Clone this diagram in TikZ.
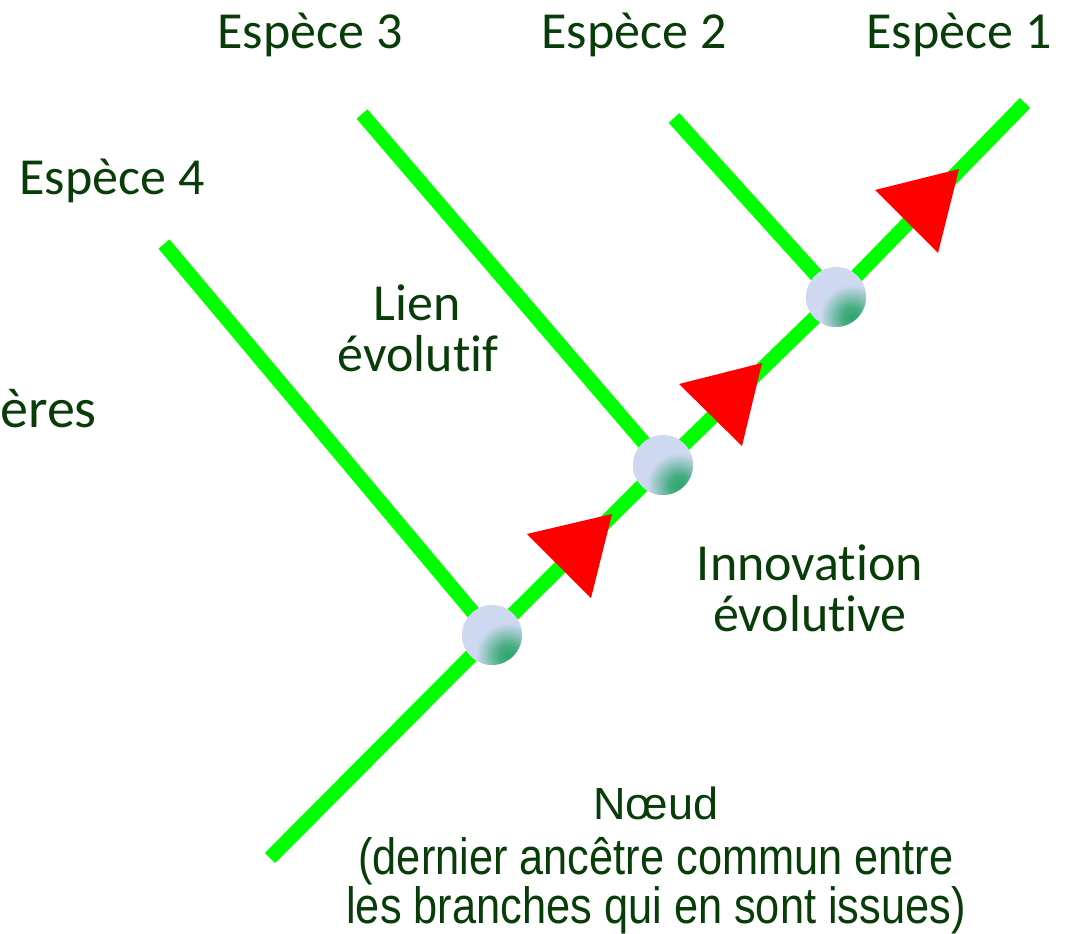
\documentclass[tikz,border=0pt]{standalone}
\usepackage{fontspec}
\setmainfont{Carlito}[Ligatures=NoCommon]
\newfontfamily\plainsans{Liberation Sans}
\newfontfamily\narrowsans[FakeStretch=0.85]{Liberation Sans}
\usetikzlibrary{backgrounds}

\definecolor{txtgreen}{RGB}{8,60,8}
\definecolor{branchgreen}{RGB}{0,255,0}
\definecolor{markred}{RGB}{255,0,0}
\definecolor{nodebase}{RGB}{206,216,240}
\definecolor{nodespot}{RGB}{45,165,110}

% soft glow used on the lower right of each node
\pgfdeclareradialshading{nodeglow}{\pgfpoint{0bp}{0bp}}{%
  color(0bp)=(nodespot); color(5bp)=(nodespot!85!nodebase);
  color(16bp)=(nodebase); color(50bp)=(nodebase)}

\begin{document}
\begin{tikzpicture}[x=0.75pt,y=-0.75pt,
  branch/.style={draw=branchgreen, line width=10.8pt},
  sphere/.style={circle, minimum size=45pt, inner sep=0pt, fill=nodebase,
    path picture={\shade[shading=nodeglow]
      ([shift={(16,20)}]path picture bounding box.center) circle (50);}},
  arrowmark/.style={fill=markred},
  lbl/.style={text=txtgreen, inner sep=0pt, anchor=base,
    font=\fontsize{39}{51}\selectfont},
  biglbl/.style={lbl, font=\fontsize{42}{51}\selectfont},
  notelbl/.style={text=txtgreen, inner sep=0pt, anchor=base,
    font=\narrowsans\fontsize{38.25}{49}\selectfont},
  notehead/.style={text=txtgreen, inner sep=0pt, anchor=base,
    font=\plainsans\fontsize{33.75}{40}\selectfont}]

\useasboundingbox (0,0) rectangle (1072,933);

% branch points (common ancestors)
\node[sphere] (n1) at (492,635) {};
\node[sphere] (n2) at (663,465) {};
\node[sphere] (n3) at (836,297) {};

% free ends of the branches
\coordinate (root) at (270,858);
\coordinate (s1) at (1025,103);
\coordinate (s2) at (674,118);
\coordinate (s3) at (362,114);
\coordinate (s4) at (164,244);

\begin{pgfonlayer}{background}
  \draw[branch] (root) -- (n1.center);
  \draw[branch] (n1.center) -- (n2.center);
  \draw[branch] (n2.center) -- (n3.center);
  \draw[branch] (n3.center) -- (s1);
  \draw[branch] (n3.center) -- (s2);
  \draw[branch] (n2.center) -- (s3);
  \draw[branch] (n1.center) -- (s4);
\end{pgfonlayer}

% evolutionary innovations along the trunk
\fill[arrowmark] (527,534) -- (612,514) -- (591,598) -- cycle;
\fill[arrowmark] (679,384) -- (762,363) -- (742,446) -- cycle;
\fill[arrowmark] (875,190) -- (959,169) -- (938,253) -- cycle;

% species names
\node[lbl] (e3) at (310,48) {Espèce 3};
\node[lbl] (e2) at (634,48) {Espèce 2};
\node[lbl] (e1) at (959,48) {Espèce 1};
\node[lbl] (e4) at (112,194) {Espèce 4};
\node[biglbl, anchor=base east] (car) at (97,427) {ères};

% annotations
\node[lbl] (lien1) at (417,320) {Lien};
\node[lbl] (lien2) at (418,371) {évolutif};
\node[lbl] (inno1) at (810,580) {Innovation};
\node[lbl] (inno2) at (810,631) {évolutive};
\node[notehead] (nd1) at (656,819) {Nœud};
\node[notelbl] (nd2) at (656,874) {(dernier ancêtre commun entre};
\node[notelbl] (nd3) at (656,923) {les branches qui en sont issues)};

\end{tikzpicture}
\end{document}
